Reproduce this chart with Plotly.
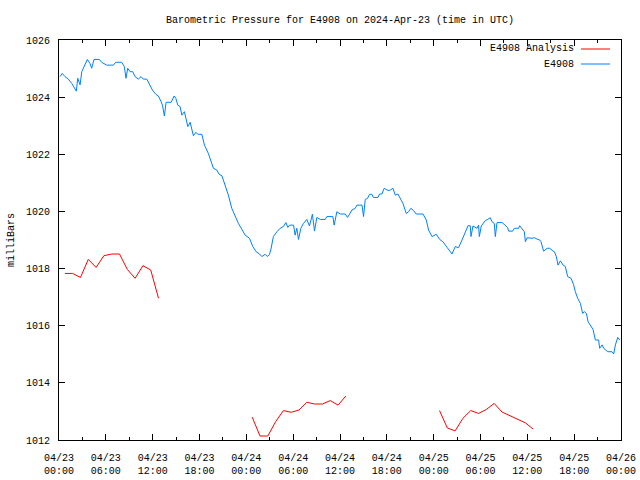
import plotly.graph_objects as go

# ---- data ----
blue_times = [
    "2024-04-23 00:08", "2024-04-23 00:25", "2024-04-23 00:46", "2024-04-23 01:11", "2024-04-23 01:38",
    "2024-04-23 01:58", "2024-04-23 02:13", "2024-04-23 02:24", "2024-04-23 02:42", "2024-04-23 02:55",
    "2024-04-23 03:15", "2024-04-23 03:38", "2024-04-23 03:58", "2024-04-23 04:11", "2024-04-23 04:29",
    "2024-04-23 05:10", "2024-04-23 05:28", "2024-04-23 06:07", "2024-04-23 06:58", "2024-04-23 07:16",
    "2024-04-23 08:02", "2024-04-23 08:22", "2024-04-23 08:35", "2024-04-23 08:48", "2024-04-23 09:06",
    "2024-04-23 09:27", "2024-04-23 09:44", "2024-04-23 10:10", "2024-04-23 10:31", "2024-04-23 10:48",
    "2024-04-23 11:15", "2024-04-23 11:40", "2024-04-23 11:58", "2024-04-23 12:24", "2024-04-23 12:44",
    "2024-04-23 13:05", "2024-04-23 13:15", "2024-04-23 13:30", "2024-04-23 13:43", "2024-04-23 14:22",
    "2024-04-23 14:45", "2024-04-23 14:58", "2024-04-23 15:13", "2024-04-23 15:31", "2024-04-23 15:44",
    "2024-04-23 16:04", "2024-04-23 16:17", "2024-04-23 16:30", "2024-04-23 16:48", "2024-04-23 17:01",
    "2024-04-23 17:13", "2024-04-23 17:32", "2024-04-23 17:47", "2024-04-23 18:18", "2024-04-23 18:38",
    "2024-04-23 19:08", "2024-04-23 19:29", "2024-04-23 19:47", "2024-04-23 20:13", "2024-04-23 20:31",
    "2024-04-23 20:52", "2024-04-23 21:09", "2024-04-23 21:42", "2024-04-23 22:08", "2024-04-23 22:34",
    "2024-04-23 22:59", "2024-04-23 23:25", "2024-04-23 23:51", "2024-04-24 00:24", "2024-04-24 00:50",
    "2024-04-24 01:15", "2024-04-24 01:41", "2024-04-24 01:59", "2024-04-24 02:25", "2024-04-24 02:42",
    "2024-04-24 02:58", "2024-04-24 03:08", "2024-04-24 03:28", "2024-04-24 03:55", "2024-04-24 04:20",
    "2024-04-24 04:45", "2024-04-24 05:04", "2024-04-24 05:19", "2024-04-24 05:32", "2024-04-24 06:03",
    "2024-04-24 06:15", "2024-04-24 06:28", "2024-04-24 06:41", "2024-04-24 06:59", "2024-04-24 07:19",
    "2024-04-24 07:45", "2024-04-24 08:05", "2024-04-24 08:28", "2024-04-24 08:44", "2024-04-24 09:02",
    "2024-04-24 09:28", "2024-04-24 10:06", "2024-04-24 10:19", "2024-04-24 11:05", "2024-04-24 11:15",
    "2024-04-24 11:36", "2024-04-24 12:02", "2024-04-24 12:40", "2024-04-24 12:58", "2024-04-24 13:32",
    "2024-04-24 13:57", "2024-04-24 14:10", "2024-04-24 14:49", "2024-04-24 15:01", "2024-04-24 15:14",
    "2024-04-24 15:32", "2024-04-24 15:47", "2024-04-24 16:05", "2024-04-24 16:17", "2024-04-24 16:52",
    "2024-04-24 17:04", "2024-04-24 17:22", "2024-04-24 17:40", "2024-04-24 18:01", "2024-04-24 18:21",
    "2024-04-24 18:47", "2024-04-24 19:05", "2024-04-24 19:25", "2024-04-24 19:43", "2024-04-24 20:04",
    "2024-04-24 20:29", "2024-04-24 20:47", "2024-04-24 21:05", "2024-04-24 21:25", "2024-04-24 21:46",
    "2024-04-24 22:38", "2024-04-24 23:03", "2024-04-24 23:21", "2024-04-24 23:47", "2024-04-25 00:20",
    "2024-04-25 00:46", "2024-04-25 01:11", "2024-04-25 01:43", "2024-04-25 02:02", "2024-04-25 02:21",
    "2024-04-25 02:46", "2024-04-25 03:11", "2024-04-25 03:38", "2024-04-25 04:03", "2024-04-25 04:24",
    "2024-04-25 04:41", "2024-04-25 04:47", "2024-04-25 05:02", "2024-04-25 05:33", "2024-04-25 05:45",
    "2024-04-25 05:51", "2024-04-25 06:06", "2024-04-25 06:37", "2024-04-25 06:55", "2024-04-25 07:15",
    "2024-04-25 07:28", "2024-04-25 07:46", "2024-04-25 07:54", "2024-04-25 08:07", "2024-04-25 08:46",
    "2024-04-25 09:11", "2024-04-25 09:28", "2024-04-25 09:36", "2024-04-25 10:07", "2024-04-25 10:20",
    "2024-04-25 10:53", "2024-04-25 11:01", "2024-04-25 11:19", "2024-04-25 11:37", "2024-04-25 11:45",
    "2024-04-25 11:58", "2024-04-25 12:36", "2024-04-25 12:54", "2024-04-25 13:15", "2024-04-25 13:35",
    "2024-04-25 13:45", "2024-04-25 14:05", "2024-04-25 14:32", "2024-04-25 14:52", "2024-04-25 15:18",
    "2024-04-25 15:28", "2024-04-25 15:43", "2024-04-25 15:56", "2024-04-25 16:14", "2024-04-25 16:35",
    "2024-04-25 16:52", "2024-04-25 17:10", "2024-04-25 17:36", "2024-04-25 17:56", "2024-04-25 18:09",
    "2024-04-25 18:27", "2024-04-25 18:48", "2024-04-25 19:05", "2024-04-25 19:18", "2024-04-25 19:34",
    "2024-04-25 19:47", "2024-04-25 20:05", "2024-04-25 20:25", "2024-04-25 20:43", "2024-04-25 21:08",
    "2024-04-25 21:16", "2024-04-25 21:35", "2024-04-25 21:47", "2024-04-25 22:18", "2024-04-25 22:51",
    "2024-04-25 23:04", "2024-04-25 23:17", "2024-04-25 23:35", "2024-04-25 23:50",
]
blue_values = [
    1024.72, 1024.83, 1024.72, 1024.63, 1024.48, 1024.31, 1024.21, 1024.66, 1024.43, 1024.89,
    1025.07, 1025.32, 1025.18, 1025.01, 1025.32, 1025.32, 1025.22, 1025.12, 1025.12, 1025.22,
    1025.22, 1025.07, 1024.66, 1025.01, 1024.89, 1024.89, 1024.72, 1024.63, 1024.72, 1024.63,
    1024.63, 1024.43, 1024.25, 1024.10, 1024.04, 1023.84, 1023.72, 1023.34, 1023.82, 1023.82,
    1024.04, 1023.96, 1023.72, 1023.67, 1023.37, 1023.49, 1023.26, 1022.97, 1023.12, 1022.85,
    1022.65, 1022.77, 1022.70, 1022.70, 1022.32, 1022.03, 1021.74, 1021.51, 1021.45, 1021.30,
    1021.25, 1021.04, 1020.57, 1020.11, 1019.82, 1019.58, 1019.38, 1019.17, 1019.06, 1018.77,
    1018.59, 1018.51, 1018.42, 1018.50, 1018.42, 1018.50, 1018.65, 1019.12, 1019.29, 1019.41,
    1019.47, 1019.61, 1019.44, 1019.52, 1019.52, 1019.17, 1019.41, 1019.02, 1019.41, 1019.58,
    1019.72, 1019.49, 1019.90, 1019.31, 1019.79, 1019.72, 1019.72, 1019.82, 1019.82, 1019.52,
    1019.99, 1019.91, 1019.91, 1019.79, 1020.05, 1020.11, 1020.22, 1020.22, 1019.82, 1020.42,
    1020.46, 1020.60, 1020.60, 1020.49, 1020.49, 1020.61, 1020.61, 1020.81, 1020.75, 1020.73,
    1020.81, 1020.57, 1020.61, 1020.46, 1020.28, 1019.93, 1019.99, 1020.11, 1020.03, 1019.91,
    1019.91, 1019.70, 1019.35, 1019.12, 1019.20, 1019.02, 1018.94, 1018.74, 1018.61, 1018.51,
    1018.77, 1018.73, 1019.00, 1019.29, 1019.50, 1019.50, 1019.12, 1019.49, 1019.41, 1019.52,
    1019.12, 1019.49, 1019.68, 1019.72, 1019.78, 1019.64, 1019.58, 1019.12, 1019.61, 1019.61,
    1019.52, 1019.44, 1019.31, 1019.31, 1019.41, 1019.41, 1019.50, 1019.41, 1019.29, 1018.94,
    1019.08, 1019.06, 1019.08, 1019.03, 1019.00, 1018.94, 1018.61, 1018.71, 1018.71, 1018.61,
    1018.59, 1018.42, 1018.12, 1018.27, 1018.12, 1018.07, 1017.72, 1017.66, 1017.43, 1017.19,
    1016.96, 1016.78, 1016.43, 1016.49, 1016.43, 1016.14, 1016.02, 1015.87, 1015.50, 1015.50,
    1015.21, 1015.33, 1015.21, 1015.09, 1015.09, 1015.01, 1015.33, 1015.59, 1015.50,
]

red_times = [
    "2024-04-23 00:45", "2024-04-23 01:45", "2024-04-23 02:45", "2024-04-23 03:45", "2024-04-23 04:45",
    "2024-04-23 05:45", "2024-04-23 06:45", "2024-04-23 07:45", "2024-04-23 08:45", "2024-04-23 09:45",
    "2024-04-23 10:45", "2024-04-23 11:45", "2024-04-23 12:45", "2024-04-23 13:15",
    "2024-04-24 00:45", "2024-04-24 01:45", "2024-04-24 02:45", "2024-04-24 03:45", "2024-04-24 04:45",
    "2024-04-24 05:45", "2024-04-24 06:45", "2024-04-24 07:45", "2024-04-24 08:45", "2024-04-24 09:45",
    "2024-04-24 10:45", "2024-04-24 11:45", "2024-04-24 12:45", "2024-04-24 13:15",
    "2024-04-25 00:45", "2024-04-25 01:45", "2024-04-25 02:45", "2024-04-25 03:45", "2024-04-25 04:45",
    "2024-04-25 05:45", "2024-04-25 06:45", "2024-04-25 07:45", "2024-04-25 08:45", "2024-04-25 09:45",
    "2024-04-25 10:45", "2024-04-25 11:45", "2024-04-25 12:45",
]
red_values = [
    1017.83, 1017.83, 1017.69, 1018.32, 1018.04, 1018.45, 1018.51, 1018.51, 1017.97, 1017.66,
    1018.10, 1017.95, 1016.96, None,
    1012.80, 1012.14, 1012.14, 1012.64, 1013.03, 1012.97, 1013.05, 1013.32, 1013.26, 1013.26,
    1013.38, 1013.22, 1013.54, None,
    1013.03, 1012.42, 1012.32, 1012.76, 1013.03, 1012.93, 1013.07, 1013.28, 1012.98, 1012.86,
    1012.72, 1012.60, 1012.38,
]

series_names = ["E4908 Analysis", "E4908"]
series_colors = ["#ff0000", "#0080ff"]
title_text = "Barometric Pressure for E4908 on 2024-Apr-23 (time in UTC)"
y_title = "milliBars"
x_range = ["2024-04-23 00:00", "2024-04-26 00:00"]
y_range = [1012, 1026]

FONT = "Liberation Mono, DejaVu Sans Mono, monospace"

fig = go.Figure()
fig.add_trace(go.Scatter(x=red_times, y=red_values, mode="lines", name=series_names[0],
                         line=dict(color=series_colors[0], width=1), connectgaps=False,
                         showlegend=False))
fig.add_trace(go.Scatter(x=blue_times, y=blue_values, mode="lines", name=series_names[1],
                         line=dict(color=series_colors[1], width=1), showlegend=False))

W, H = 640, 480
L, R, T, B = 59, 19, 40, 40
pw, ph = W - L - R, H - T - B

def px_x(p):
    return (p - L) / pw

def px_y(p):
    return (H - B - p) / ph

annotations = [
    dict(text=y_title, x=px_x(11), y=0.5, xref="paper", yref="paper", textangle=-90,
         showarrow=False, xanchor="center", yanchor="middle", font=dict(size=10, family=FONT)),
]
shapes = []
for i, (nm, col) in enumerate(zip(series_names, series_colors)):
    yy = px_y(49 + 15 * i)
    annotations.append(dict(text=nm, x=px_x(576), y=yy, xref="paper", yref="paper",
                            showarrow=False, xanchor="right", yanchor="middle",
                            font=dict(size=10, family=FONT, color="black")))
    shapes.append(dict(type="line", xref="paper", yref="paper", x0=px_x(581), x1=px_x(610),
                       y0=yy, y1=yy, line=dict(color=col, width=1)))

fig.update_layout(
    width=W, height=H,
    margin=dict(l=L, r=R, t=T, b=B, autoexpand=False),
    paper_bgcolor="white", plot_bgcolor="white",
    font=dict(family=FONT, size=10, color="black"),
    title=dict(text=title_text, x=(L + pw / 2) / W, xanchor="center", y=1 - 19 / H,
               yanchor="middle", font=dict(size=10, family=FONT)),
    annotations=annotations, shapes=shapes,
    showlegend=False,
)
fig.update_xaxes(
    range=x_range, type="date", automargin=False,
    tickmode="linear", tick0="2024-04-23 00:00", dtick=6 * 3600 * 1000,
    tickformat="%m/%d<br>%H:%M",
    ticks="inside", ticklen=6, tickcolor="black",
    minor=dict(ticks="inside", ticklen=3, dtick=3 * 3600 * 1000, tickcolor="black", showgrid=False),
    showline=True, linecolor="black", linewidth=1, mirror="ticks",
    showgrid=False, zeroline=False, ticklabelstandoff=8,
    tickfont=dict(size=10, family=FONT),
)
fig.update_yaxes(
    range=y_range, tickmode="linear", tick0=1012, dtick=2, automargin=False,
    ticks="inside", ticklen=6, tickcolor="black",
    showline=True, linecolor="black", linewidth=1, mirror="ticks",
    showgrid=False, zeroline=False, ticklabelstandoff=6,
    tickfont=dict(size=10, family=FONT),
)

fig.write_html("out.html")
